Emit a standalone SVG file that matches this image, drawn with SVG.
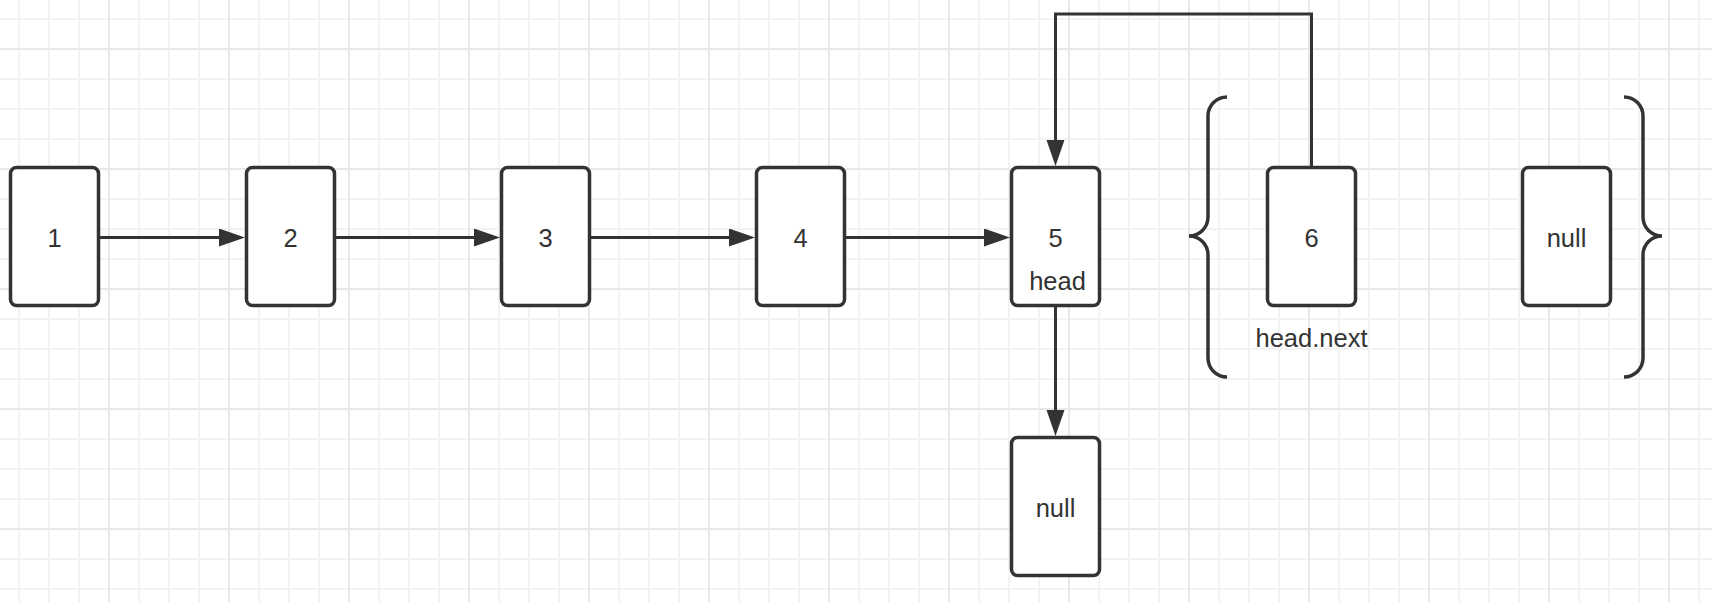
<svg xmlns="http://www.w3.org/2000/svg" width="1712" height="602" viewBox="0 0 1712 602">
  <defs>
    <!-- background grid: minor every 30px, major every 120px -->
    <pattern id="grid" x="94" y="34" width="120" height="120" patternUnits="userSpaceOnUse">
      <path d="M45,0V120M75,0V120M105,0V120M0,45H120M0,75H120M0,105H120" stroke="#f3f3f3" stroke-width="2" fill="none"/>
      <path d="M15,0V120M0,15H120" stroke="#e8e8e8" stroke-width="2" fill="none"/>
    </pattern>
    <marker id="arrow" markerUnits="userSpaceOnUse" markerWidth="28" markerHeight="20" refX="2" refY="9" orient="auto">
      <path d="M0,0 L26,9 L0,18 Z" fill="#333333"/>
    </marker>
    <style>
      .box { fill: #ffffff; stroke: #333333; stroke-width: 3.5; }
      .edge { fill: none; stroke: #333333; stroke-width: 3; }
      .brace { fill: none; stroke: #333333; stroke-width: 3.5; }
      .label { font-family: "Liberation Sans", Arial, Helvetica, sans-serif; font-size: 25.5px; fill: #333333; text-anchor: middle; }
    </style>
  </defs>

  <rect width="1712" height="602" fill="#ffffff"/>
  <rect width="1712" height="602" fill="url(#grid)"/>

  <!-- connectors -->
  <g id="connectors">
    <path class="edge" d="M98.5,237.5 H221" marker-end="url(#arrow)"/>
    <path class="edge" d="M334.5,237.5 H476" marker-end="url(#arrow)"/>
    <path class="edge" d="M589.5,237.5 H731" marker-end="url(#arrow)"/>
    <path class="edge" d="M844.5,237.5 H986" marker-end="url(#arrow)"/>
    <path class="edge" d="M1311.5,167.5 V14 H1055.5 V142" marker-end="url(#arrow)"/>
    <path class="edge" d="M1055.5,305.5 V412" marker-end="url(#arrow)"/>
  </g>

  <!-- list nodes -->
  <g id="node-1">
    <rect class="box" x="10.5" y="167.5" width="88" height="138" rx="6"/>
    <text class="label" x="54.5" y="246.5">1</text>
  </g>
  <g id="node-2">
    <rect class="box" x="246.5" y="167.5" width="88" height="138" rx="6"/>
    <text class="label" x="290.5" y="246.5">2</text>
  </g>
  <g id="node-3">
    <rect class="box" x="501.5" y="167.5" width="88" height="138" rx="6"/>
    <text class="label" x="545.5" y="246.5">3</text>
  </g>
  <g id="node-4">
    <rect class="box" x="756.5" y="167.5" width="88" height="138" rx="6"/>
    <text class="label" x="800.5" y="246.5">4</text>
  </g>
  <g id="node-5">
    <rect class="box" x="1011.5" y="167.5" width="88" height="138" rx="6"/>
    <text class="label" x="1055.5" y="246.5">5</text>
    <text class="label" x="1057.5" y="290">head</text>
  </g>
  <g id="node-6">
    <rect class="box" x="1267.5" y="167.5" width="88" height="138" rx="6"/>
    <text class="label" x="1311.5" y="246.5">6</text>
  </g>
  <g id="node-6-label">
    <text class="label" x="1311.5" y="347">head.next</text>
  </g>
  <g id="node-null-right">
    <rect class="box" x="1522.5" y="167.5" width="88" height="138" rx="6"/>
    <text class="label" x="1566.5" y="246.5">null</text>
  </g>
  <g id="node-null-bottom">
    <rect class="box" x="1011.5" y="437.5" width="88" height="138" rx="6"/>
    <text class="label" x="1055.5" y="517">null</text>
  </g>

  <!-- curly braces around the detached part -->
  <g id="brace-left">
    <path class="brace" d="M1227,97 A19,19 0 0 0 1208,116 V217 A19,19 0 0 1 1189,236 A19,19 0 0 1 1208,255 V358 A19,19 0 0 0 1227,377"/>
  </g>
  <g id="brace-right">
    <path class="brace" d="M1624,97 A19,19 0 0 1 1643,116 V217 A19,19 0 0 0 1662,236 A19,19 0 0 0 1643,255 V358 A19,19 0 0 1 1624,377"/>
  </g>
</svg>
